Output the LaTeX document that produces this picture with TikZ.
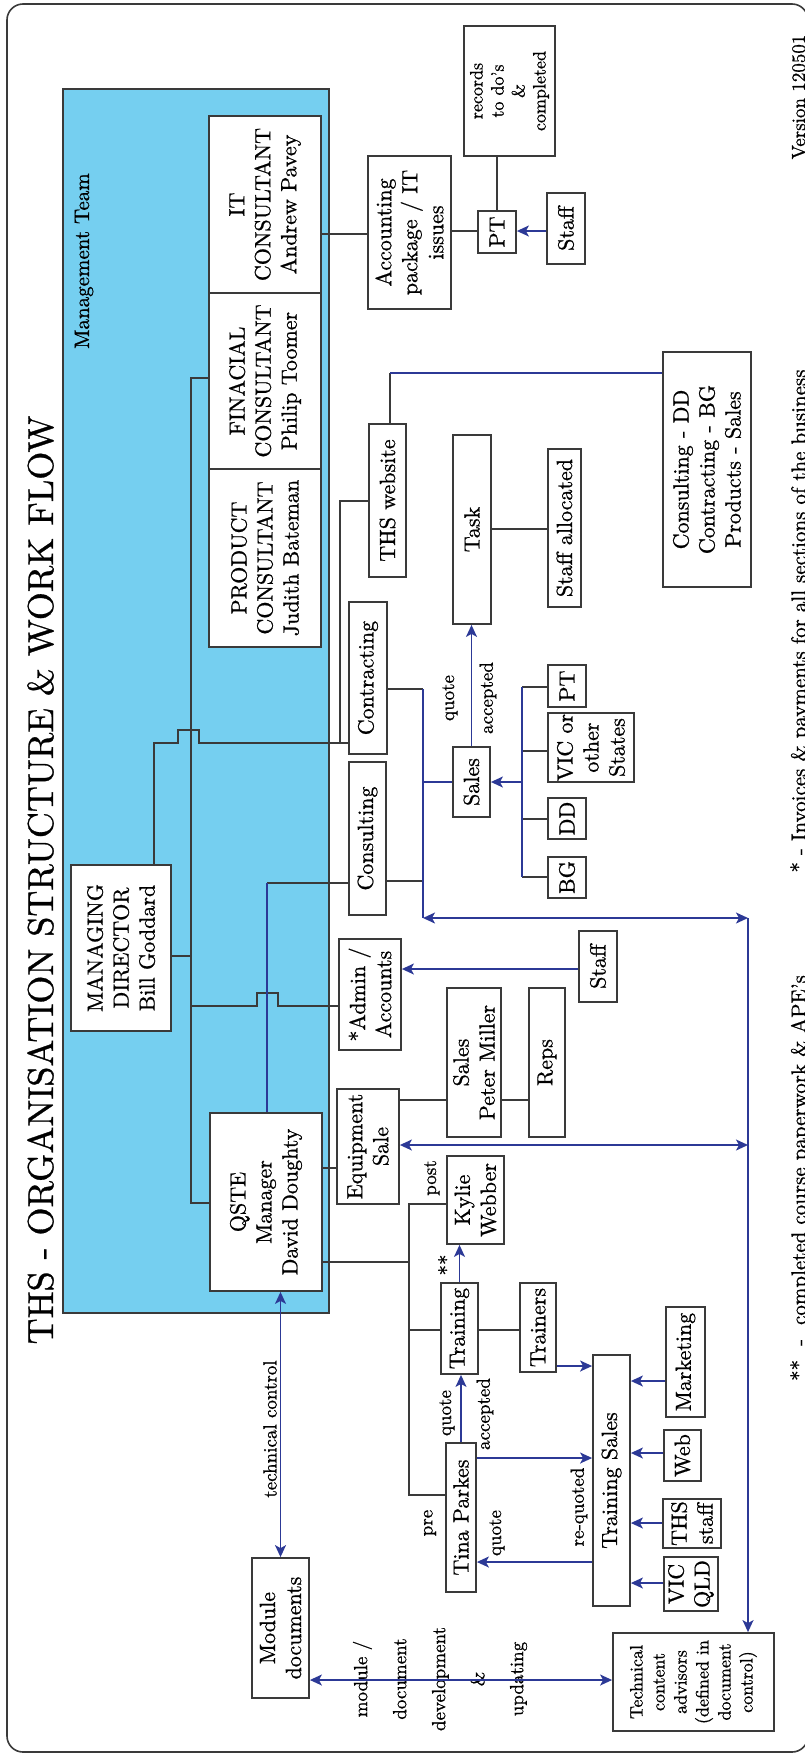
\documentclass[tikz,border=0pt]{standalone}
\usepackage{fontspec}
\setmainfont{lmroman10-regular}[Extension=.otf,FakeBold=0.8]
\usetikzlibrary{arrows.meta,calc}
\definecolor{teamblue}{RGB}{117,207,240}
\definecolor{flow}{RGB}{44,57,150}
\definecolor{edge}{RGB}{58,58,58}
\newcommand\mybox[6]{\node[bx, minimum width={(#5-#3)*1pt}, minimum height={(#4-#2)*1pt}] (#1) at ({(#2+#4)/2},{(#3+#5)/2}) {#6};}
\tikzset{
  bx/.style={draw=edge, line width=1.8pt, fill=white, rotate=90, inner sep=0pt, align=center, font=\fontsize{22}{26}\selectfont},
  lbl/.style={rotate=90, inner sep=0pt, align=center, font=\fontsize{19}{22}\selectfont},
  gline/.style={draw=edge, line width=1.4pt},
  bline/.style={draw=flow, line width=1.5pt},
  arr/.style={-{Stealth[length=12pt,width=11pt,inset=3pt]}},
  darr/.style={{Stealth[length=12pt,width=11pt,inset=3pt]}-{Stealth[length=12pt,width=11pt,inset=3pt]}}
}
\begin{document}
\begin{tikzpicture}[x=1pt,y=-1pt]
\useasboundingbox (0,0) rectangle (805,1754);
% outer frame
\draw[edge, line width=1.6pt, rounded corners=16pt] (7,4) rectangle (808,1752);
% management team area
\draw[edge, line width=1.8pt, fill=teamblue] (63,89) rectangle (329,1313);
\node[rotate=90, anchor=base, inner sep=0pt, font=\fontsize{21}{24}\selectfont] (mtl) at (89,261) {Management Team};
\node[rotate=90, anchor=base, inner sep=0pt, font=\fontsize{36}{40}\selectfont] (title) at (53,880) {THS - ORGANISATION STRUCTURE \& WORK FLOW};

% boxes
\mybox{it}{209}{116}{321}{293}{IT\\CONSULTANT\\Andrew Pavey}
\mybox{fin}{209}{293}{321}{469}{FINACIAL\\CONSULTANT\\Philip Toomer}
\mybox{prod}{209}{469}{321}{647}{PRODUCT\\CONSULTANT\\Judith Bateman}
\mybox{md}{71}{865}{171}{1031}{MANAGING\\DIRECTOR\\Bill Goddard}
\mybox{qste}{210}{1113}{322}{1291}{QSTE\\Manager\\David Doughty}
\mybox{acc}{368}{156}{451}{309}{Accounting\\package / IT\\issues}
\mybox{pta}{478}{211}{516}{253}{PT}
\node[bx, font=\fontsize{18}{21}\selectfont, minimum width=130pt, minimum height=91pt] (rec) at (509.5,91) {records\\to do’s\\\&\\completed};
\mybox{stfa}{547}{193}{585}{264}{Staff}
\mybox{web}{369}{424}{406}{577}{THS website}
\mybox{cdd}{663}{352}{751}{587}{Consulting - DD\\Contracting - BG\\Products - Sales}
\mybox{contr}{349}{602}{387}{754}{Contracting}
\mybox{cons}{349}{762}{386}{915}{Consulting}
\mybox{task}{453}{435}{491}{624}{Task}
\mybox{stalloc}{548}{449}{581}{607}{Staff allocated}
\mybox{sales}{453}{747}{490}{817}{Sales}
\mybox{ptb}{548}{665}{586}{707}{PT}
\mybox{vic}{548}{713}{634}{782}{VIC or\\other\\States}
\mybox{dd}{548}{798}{586}{839}{DD}
\mybox{bg}{548}{857}{586}{898}{BG}
\mybox{adm}{339}{939}{401}{1050}{*Admin /\\Accounts}
\mybox{stfb}{579}{931}{617}{1002}{Staff}
\mybox{eq}{337}{1089}{399}{1204}{Equipment\\Sale}
\mybox{spm}{447}{988}{501}{1137}{Sales\\Peter Miller}
\mybox{reps}{529}{988}{565}{1137}{Reps}
\mybox{kw}{447}{1156}{504}{1244}{Kylie\\Webber}
\mybox{trn}{441}{1283}{478}{1374}{Training}
\mybox{trs}{520}{1283}{556}{1372}{Trainers}
\mybox{tina}{446}{1443}{476}{1592}{Tina Parkes}
\mybox{ts}{593}{1355}{630}{1606}{Training Sales}
\mybox{mkt}{666}{1307}{705}{1417}{Marketing}
\mybox{webb}{664}{1430}{701}{1481}{Web}
\mybox{thss}{663}{1499}{721}{1548}{THS\\staff}
\mybox{vq}{664}{1557}{718}{1611}{VIC\\QLD}
\node[bx, font=\fontsize{18}{22}\selectfont, minimum width=98pt, minimum height=161pt] (tech) at (693.5,1682) {Technical\\content\\advisors\\(defined in\\document\\control)};
\mybox{mod}{252}{1558}{309}{1698}{Module\\documents}

% labels
\node[lbl] (q1) at (450,698) {quote};
\node[lbl] (a1) at (488,698) {accepted};
\node[lbl] (post) at (432,1178) {post};
\node[lbl, font=\fontsize{21}{24}\selectfont] (stars) at (446,1265) {**};
\node[lbl] (pre) at (430,1523) {pre};
\node[lbl] (q2) at (447,1413) {quote};
\node[lbl] (a2) at (485,1414) {accepted};
\node[lbl] (q3) at (497,1533) {quote};
\node[lbl] (rq) at (579,1507) {re-quoted};
\node[lbl] (tc) at (270,1429) {technical control};
\node[lbl, font=\fontsize{19}{39}\selectfont] (mdu) at (440,1679) {module /\\document\\development\\\&\\updating};
\node[rotate=90, anchor=base, inner sep=0pt, font=\fontsize{21}{24}\selectfont] (fn1) at (806,621) {* - Invoices \& payments for all sections of the business};
\node[rotate=90, anchor=base, inner sep=0pt, font=\fontsize{21}{24}\selectfont] (fn2) at (806,1178) {**\ \ -\ \ completed course paperwork \& APE’s};
\node[rotate=90, anchor=base, inner sep=0pt, font=\fontsize{19}{22}\selectfont] (ver) at (805,97) {Version 120501};

% coordinates
\coordinate (va) at (191,378);
\coordinate (vb) at (191,1203);
\coordinate (vc) at (191,956);
\coordinate (vd) at (191,1006);
\coordinate (me) at (154,743);
\coordinate (wa) at (340,743);
\coordinate (wb) at (340,501);
\coordinate (wc) at (390,373);
\coordinate (qa) at (267,883);
\coordinate (ca) at (423,689);
\coordinate (cb) at (423,881);
\coordinate (cc) at (423,918);
\coordinate (cd) at (423,782);
\coordinate (sa) at (522,687);
\coordinate (sb) at (522,877);
\coordinate (sc) at (522,751);
\coordinate (sd) at (522,819);
\coordinate (se) at (522,782);
\coordinate (ra) at (748,918);
\coordinate (rb) at (748,1145);
\coordinate (ka) at (409,1204);
\coordinate (kb) at (409,1495);
\coordinate (kc) at (409,1262);
\coordinate (kd) at (409,1330);

% gray connectors
\draw[gline] (it.south |- 0,234) -- (acc.north |- 0,234);
\draw[gline] (acc.south |- 0,231) -- (pta.north |- 0,231);
\draw[gline] (pta.east) -- (pta.east |- rec.west);
\draw[gline] (fin.north |- va) -- (va) -- (vb) -- (qste.north |- vb);
\draw[gline] (md.south |- vc) -- (vc);
\draw[gline] (vd) -- (257,1006) -- (257,993) -- (278,993) -- (278,1006) -- (adm.north |- vd);
\draw[gline] (me |- md.east) -- (me) -- (178,743) -- (178,730) -- (199,730) -- (199,743) -- (contr.north |- me);
\draw[gline] (wa) -- (wb) -- (web.north |- wb);
\draw[gline] (wc |- web.east) -- (wc);
\draw[gline] (qa) -- (cons.north |- qa);
\draw[gline] (contr.south |- ca) -- (ca);
\draw[gline] (cons.south |- cb) -- (cb);
\draw[gline] (task.south |- 0,529) -- (stalloc.north |- 0,529);
\draw[gline] (sa) -- (ptb.north |- sa);
\draw[gline] (sc) -- (vic.north |- sc);
\draw[gline] (sd) -- (dd.north |- sd);
\draw[gline] (sb) -- (bg.north |- sb);
\draw[gline] (qste.south |- 0,1168) -- (eq.north |- 0,1168);
\draw[gline] (eq.south |- 0,1100) -- (spm.north |- 0,1100);
\draw[gline] (spm.south |- 0,1100) -- (reps.north |- 0,1100);
\draw[gline] (kw.north |- ka) -- (ka) -- (kb) -- (tina.north |- kb);
\draw[gline] (qste.south |- kc) -- (kc);
\draw[gline] (kd) -- (trn.north |- kd);
\draw[gline] (trn.south |- kd) -- (trs.north |- kd);

% blue connectors
\draw[bline, arr] (stfa.north |- 0,231) -- (pta.south |- 0,231);
\draw[bline] (wc) -- (cdd.north |- wc);
\draw[bline] (qa |- qste.east) -- (qa);
\draw[bline] (ca) -- (cc);
\draw[bline] (cd) -- (sales.north |- cd);
\draw[bline, arr] (sales.east) -- (sales.east |- task.west);
\draw[bline] (sa) -- (sb);
\draw[bline, arr] (se) -- (sales.south |- se);
\draw[bline, darr] (cc) -- (ra);
\draw[bline, darr] (eq.south |- rb) -- (rb);
\draw[bline, arr] (ra) -- (ra |- tech.east);
\draw[bline, arr] (stfb.north |- 0,969) -- (adm.south |- 0,969);
\draw[bline, arr] (trn.east) -- (trn.east |- kw.west);
\draw[bline, arr] (trs.south |- 0,1366) -- (ts.north |- 0,1366);
\draw[bline, arr] (tina.east) -- (tina.east |- trn.west);
\draw[bline, arr] (tina.south |- 0,1458) -- (ts.north |- 0,1458);
\draw[bline, arr] (ts.north |- 0,1562) -- (tina.south |- 0,1562);
\draw[bline, arr] (mkt.north |- 0,1381) -- (ts.south |- 0,1381);
\draw[bline, arr] (webb.north |- 0,1453) -- (ts.south |- 0,1453);
\draw[bline, arr] (thss.north |- 0,1523) -- (ts.south |- 0,1523);
\draw[bline, arr] (vq.north |- 0,1583) -- (ts.south |- 0,1583);
\draw[bline, darr] (mod.east) -- (mod.east |- qste.west);
\draw[bline, darr] (mod.south |- 0,1680) -- (tech.north |- 0,1680);
\end{tikzpicture}
\end{document}
